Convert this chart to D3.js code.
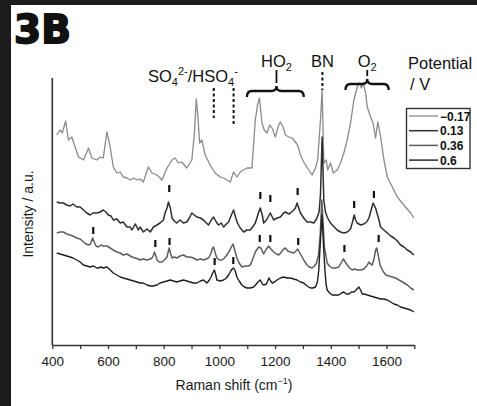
<!DOCTYPE html>
<html>
<head>
<meta charset="utf-8">
<script src="https://cdn.jsdelivr.net/npm/d3@7"></script>
<style>
  body { margin: 0; background: #fff; }
  svg { display: block; font-family: "Liberation Sans", Arial, sans-serif; }
</style>
</head>
<body>
<svg id="chart" width="477" height="406"></svg>
<script>
// Spectra: [Raman shift (cm-1), intensity (a.u., offset stacked)]
const specM017 = [[416,210],[428,215],[436,212],[448,224],[458,205],[470,208],[482,198],[494,188],[512,185],[530,197],[542,187],[560,185],[572,188],[583,187],[596,213],[608,198],[619,178],[632,172],[644,173],[655,168],[668,167],[680,165],[692,167],[704,165],[716,166],[727,163],[745,178],[758,172],[776,170],[794,165],[812,177],[830,185],[841,187],[853,182],[865,183],[883,177],[901,185],[910,210],[917,246],[923,228],[929,202],[937,205],[949,190],[967,180],[985,172],[1003,168],[1015,167],[1027,165],[1039,163],[1051,173],[1063,168],[1075,173],[1087,175],[1099,177],[1117,177],[1129,225],[1137,240],[1144,247],[1153,222],[1161,215],[1171,212],[1181,220],[1191,216],[1201,208],[1213,220],[1219,223],[1229,218],[1237,210],[1249,208],[1261,207],[1273,203],[1281,200],[1291,190],[1303,183],[1321,175],[1333,170],[1345,177],[1353,185],[1363,225],[1369,255],[1375,182],[1384,185],[1389,175],[1399,182],[1409,172],[1423,175],[1435,182],[1447,192],[1459,205],[1471,222],[1483,245],[1495,258],[1504,262],[1510,257],[1517,262],[1525,252],[1531,238],[1543,228],[1552,222],[1561,207],[1569,223],[1579,208],[1591,185],[1603,168],[1621,158],[1639,148],[1662,140],[1687,132],[1698,127]];

const spec013 = [[416,143],[428,142],[440,142],[452,140],[464,139],[474,141],[488,138],[500,138],[512,135],[524,132],[536,130],[546,132],[560,132],[572,133],[583,135],[593,133],[601,130],[611,129],[619,125],[632,126],[644,122],[655,123],[668,118],[680,118],[686,115],[698,121],[709,115],[715,118],[727,113],[740,116],[752,113],[763,118],[776,120],[787,122],[799,125],[805,132],[812,137],[817,143],[824,137],[830,127],[838,124],[847,122],[859,125],[871,122],[883,123],[892,127],[901,132],[910,130],[919,128],[932,127],[943,125],[953,122],[961,120],[971,125],[979,128],[989,123],[997,120],[1007,122],[1015,118],[1025,121],[1033,123],[1043,130],[1051,135],[1059,127],[1065,122],[1075,117],[1087,113],[1099,115],[1111,115],[1122,119],[1129,122],[1138,130],[1147,137],[1154,130],[1159,122],[1169,125],[1183,132],[1195,125],[1207,127],[1219,128],[1231,132],[1237,133],[1249,131],[1255,132],[1267,135],[1273,137],[1279,142],[1285,137],[1291,132],[1303,127],[1315,123],[1327,123],[1339,122],[1349,126],[1358,133],[1363,150],[1369,208],[1375,145],[1381,133],[1387,128],[1399,122],[1409,119],[1423,115],[1435,113],[1447,112],[1459,113],[1471,116],[1478,123],[1484,130],[1489,125],[1495,122],[1507,120],[1519,121],[1529,123],[1537,127],[1545,135],[1552,142],[1561,137],[1566,132],[1573,125],[1579,118],[1591,115],[1603,112],[1615,109],[1627,107],[1639,104],[1651,100],[1663,98],[1675,95],[1687,93],[1698,90]];

const spec036 = [[416,112],[428,113],[440,113],[452,111],[464,110],[474,109],[488,107],[500,106],[512,103],[521,101],[530,100],[537,101],[545,107],[552,102],[557,99],[565,98],[575,100],[583,99],[596,99],[608,97],[619,95],[632,93],[644,92],[655,90],[668,91],[680,89],[686,88],[698,87],[709,86],[715,85],[727,86],[740,85],[752,86],[758,87],[762,89],[767,93],[773,88],[776,85],[784,83],[794,83],[802,85],[812,88],[816,93],[820,97],[825,91],[830,87],[838,88],[847,87],[859,89],[871,90],[883,88],[895,88],[907,87],[919,85],[932,86],[943,85],[953,86],[961,87],[969,91],[974,96],[979,98],[985,92],[991,87],[1000,85],[1009,85],[1018,87],[1027,90],[1036,94],[1043,98],[1049,101],[1055,95],[1063,87],[1071,82],[1081,78],[1093,79],[1103,79],[1111,80],[1120,86],[1129,93],[1141,98],[1149,97],[1159,91],[1167,95],[1177,99],[1185,96],[1195,93],[1205,91],[1213,90],[1223,93],[1231,96],[1237,97],[1246,94],[1255,93],[1267,92],[1275,94],[1281,96],[1289,92],[1297,88],[1305,84],[1315,80],[1323,78],[1333,77],[1341,79],[1349,82],[1356,90],[1362,110],[1368,145],[1373,120],[1377,98],[1383,89],[1387,82],[1395,79],[1405,77],[1417,77],[1429,78],[1437,82],[1445,86],[1452,83],[1459,80],[1468,77],[1477,75],[1486,76],[1495,75],[1507,75],[1519,76],[1529,79],[1537,83],[1543,81],[1549,80],[1556,87],[1561,95],[1565,97],[1571,89],[1577,80],[1587,74],[1598,70],[1609,69],[1621,68],[1633,67],[1645,65],[1658,63],[1675,60],[1687,57],[1698,55]];

const spec06 = [[416,92],[428,91],[440,90],[452,89],[464,88],[474,87],[488,85],[500,83],[512,80],[524,79],[536,78],[547,79],[560,77],[565,77],[575,78],[583,77],[596,78],[608,75],[619,72],[632,70],[644,68],[655,67],[668,66],[680,65],[692,64],[704,63],[715,62],[727,62],[740,60],[752,59],[763,59],[776,60],[787,62],[799,63],[812,64],[824,65],[835,64],[847,63],[859,64],[871,65],[883,64],[895,63],[907,62],[919,62],[932,64],[943,65],[955,62],[964,65],[970,68],[976,72],[982,75],[987,70],[991,65],[1003,64],[1015,65],[1025,67],[1033,70],[1041,74],[1046,76],[1051,77],[1057,74],[1063,68],[1071,64],[1081,60],[1090,58],[1099,57],[1111,57],[1123,58],[1133,61],[1142,64],[1147,65],[1154,61],[1159,60],[1169,61],[1178,67],[1184,64],[1190,62],[1198,63],[1207,65],[1219,67],[1231,68],[1243,67],[1255,67],[1267,66],[1279,65],[1291,63],[1303,62],[1315,59],[1327,57],[1336,57],[1345,58],[1352,63],[1357,75],[1362,100],[1368,130],[1374,100],[1379,75],[1383,61],[1387,55],[1396,52],[1405,50],[1417,50],[1429,50],[1439,52],[1447,53],[1456,51],[1465,51],[1474,53],[1483,53],[1491,55],[1501,58],[1507,55],[1513,51],[1521,51],[1531,50],[1543,49],[1555,48],[1567,47],[1579,46],[1591,46],[1603,45],[1615,43],[1627,41],[1639,40],[1651,38],[1663,37],[1675,36],[1687,35],[1698,33]];

// peak markers: [shift, intensity at the bottom of the tick]
const marks013 = [[820,153],[1147,146],[1183,143],[1281,150],[1484,137],[1555,147]];
const marks036 = [[547,111],[770,98],[821,100],[1145,103],[1183,103],[1283,100],[1449,93],[1572,103]];
const marks06 = [[983,80],[1050,81]];

const potentials = ["\u22120.17", "0.13", "0.36", "0.6"];
const xTicks = [400, 600, 800, 1000, 1200, 1400, 1600];

const series = [
  { label: potentials[0], values: specM017, marks: [], color: "#8a8a8a", width: 1.3 },
  { label: potentials[1], values: spec013, marks: marks013, color: "#2e2e2e", width: 1.5 },
  { label: potentials[2], values: spec036, marks: marks036, color: "#5e5e5e", width: 1.5 },
  { label: potentials[3], values: spec06, marks: marks06, color: "#1e1e1e", width: 1.4 }
];

const width = 477, height = 406;
const marginLeft = 52.3, marginRight = 62.7, marginTop = 78, marginBottom = 61;

const svg = d3.select("#chart");

// frame of the panel
svg.append("rect").attr("x", 0).attr("y", 0).attr("width", width).attr("height", 5).attr("fill", "#1c1c1c");
svg.append("rect").attr("x", 0).attr("y", 0).attr("width", 11).attr("height", height).attr("fill", "#1c1c1c");

svg.append("text")
  .attr("x", 14).attr("y", 43)
  .attr("font-family", "DejaVu Sans, sans-serif")
  .attr("font-weight", "bold")
  .attr("font-size", 39)
  .attr("fill", "#111").attr("stroke", "#111").attr("stroke-width", 1.8)
  .text("3B");

const x = d3.scaleLinear().domain([400, 1700]).range([marginLeft, width - marginRight]);
const y = d3.scaleLinear().domain([0, 267]).range([height - marginBottom, marginTop]);

// axes
const xAxis = svg.append("g")
  .attr("transform", `translate(0,${height - marginBottom})`)
  .call(d3.axisBottom(x).tickValues(d3.range(400, 1701, 100)).tickSize(4).tickSizeOuter(0)
    .tickFormat(d => xTicks.includes(d) ? d : ""));
xAxis.select(".domain").attr("stroke", "#333").attr("stroke-width", 1.6);
xAxis.selectAll(".tick line").attr("stroke", "#333").attr("stroke-width", 1.3);
xAxis.selectAll(".tick text").attr("font-size", 13.5).attr("fill", "#1a1a1a").attr("dy", "1.0em")
  .attr("font-family", "Liberation Sans, Arial, sans-serif");

svg.append("line")
  .attr("x1", marginLeft).attr("x2", marginLeft)
  .attr("y1", marginTop).attr("y2", height - marginBottom)
  .attr("stroke", "#333").attr("stroke-width", 1.6);

const xTitle = svg.append("text")
  .attr("x", 234).attr("y", 390)
  .attr("text-anchor", "middle").attr("font-size", 14).attr("fill", "#1a1a1a");
xTitle.append("tspan").text("Raman shift (cm");
xTitle.append("tspan").attr("font-size", 9).attr("dy", -6).text("\u22121");
xTitle.append("tspan").attr("dy", 6).text(")");

svg.append("text")
  .attr("transform", "translate(33,214) rotate(-90)")
  .attr("text-anchor", "middle").attr("font-size", 14).attr("fill", "#1a1a1a")
  .text("Intensity / a.u.");

// spectra
const line = d3.line().x(d => x(d[0])).y(d => y(d[1]));
svg.append("g").selectAll("path")
  .data(series)
  .join("path")
    .attr("d", d => line(d.values))
    .attr("fill", "none")
    .attr("stroke", d => d.color)
    .attr("stroke-width", d => d.width)
    .attr("stroke-linejoin", "round");

// peak ticks
svg.append("g").selectAll("line")
  .data(series.flatMap(s => s.marks))
  .join("line")
    .attr("x1", d => x(d[0])).attr("x2", d => x(d[0]))
    .attr("y1", d => y(d[1])).attr("y2", d => y(d[1]) - 7)
    .attr("stroke", "#111").attr("stroke-width", 2.2);

// annotations
const ann = svg.append("g").attr("fill", "#111").attr("font-size", 16.5);

const so = ann.append("text").attr("x", 148).attr("y", 82);
so.append("tspan").text("SO");
so.append("tspan").attr("font-size", 11).attr("dy", 4).text("4");
so.append("tspan").attr("font-size", 11).attr("dy", -11).text("2-");
so.append("tspan").attr("dy", 7).text("/HSO");
so.append("tspan").attr("font-size", 11).attr("dy", 4).text("4");
so.append("tspan").attr("font-size", 11).attr("dy", -11).text("-");

function label(cx, base, main, sub) {
  const t = ann.append("text").attr("x", cx).attr("y", base).attr("text-anchor", "middle");
  t.append("tspan").text(main);
  if (sub) t.append("tspan").attr("font-size", 11).attr("dy", 4).text(sub);
}
label(x(1205), 67, "HO", "2");
label(x(1370), 67, "BN");
label(x(1531), 67, "O", "2");

const dashed = [[980, 88, 118], [1051, 88, 125], [1370, 72, 90]];
ann.selectAll(".dash").data(dashed).join("line")
  .attr("x1", d => x(d[0])).attr("x2", d => x(d[0]))
  .attr("y1", d => d[1]).attr("y2", d => d[2])
  .attr("stroke", "#111").attr("stroke-width", 2).attr("stroke-dasharray", "3,2.5");

function brace(x1, x2, xm, yb) {
  const a = x(x1), b = x(x2), m = x(xm);
  const p = `M${a},${yb + 6} Q${a},${yb} ${a + 5},${yb} L${m - 5},${yb} Q${m},${yb} ${m},${yb - 5} ` +
            `Q${m},${yb} ${m + 5},${yb} L${b - 5},${yb} Q${b},${yb} ${b},${yb + 6}`;
  ann.append("path").attr("d", p).attr("fill", "none").attr("stroke", "#111").attr("stroke-width", 2.3);
  ann.append("line").attr("x1", m).attr("x2", m).attr("y1", 70).attr("y2", yb - 8)
    .attr("stroke", "#111").attr("stroke-width", 1.8);
}
brace(1099, 1303, 1205, 91);
brace(1453, 1608, 1531, 84);

// legend
ann.append("text").attr("x", 408).attr("y", 69).text("Potential");
ann.append("text").attr("x", 410).attr("y", 90).text("/ V");

const legend = svg.append("g");
legend.append("rect").attr("x", 406.5).attr("y", 108.5).attr("width", 63.5).attr("height", 60)
  .attr("fill", "#fff").attr("stroke", "#333").attr("stroke-width", 1.4);
const rows = legend.selectAll("g.row").data(series).join("g")
  .attr("transform", (d, i) => `translate(0,${116 + i * 14.7})`);
rows.append("line").attr("x1", 409).attr("x2", 438).attr("y1", 0).attr("y2", 0)
  .attr("stroke", d => d.color).attr("stroke-width", d => d.width);
rows.append("text").attr("x", 440).attr("y", 4.5)
  .attr("font-size", 12).attr("font-weight", "bold").attr("fill", "#111")
  .text(d => d.label);
</script>
</body>
</html>
